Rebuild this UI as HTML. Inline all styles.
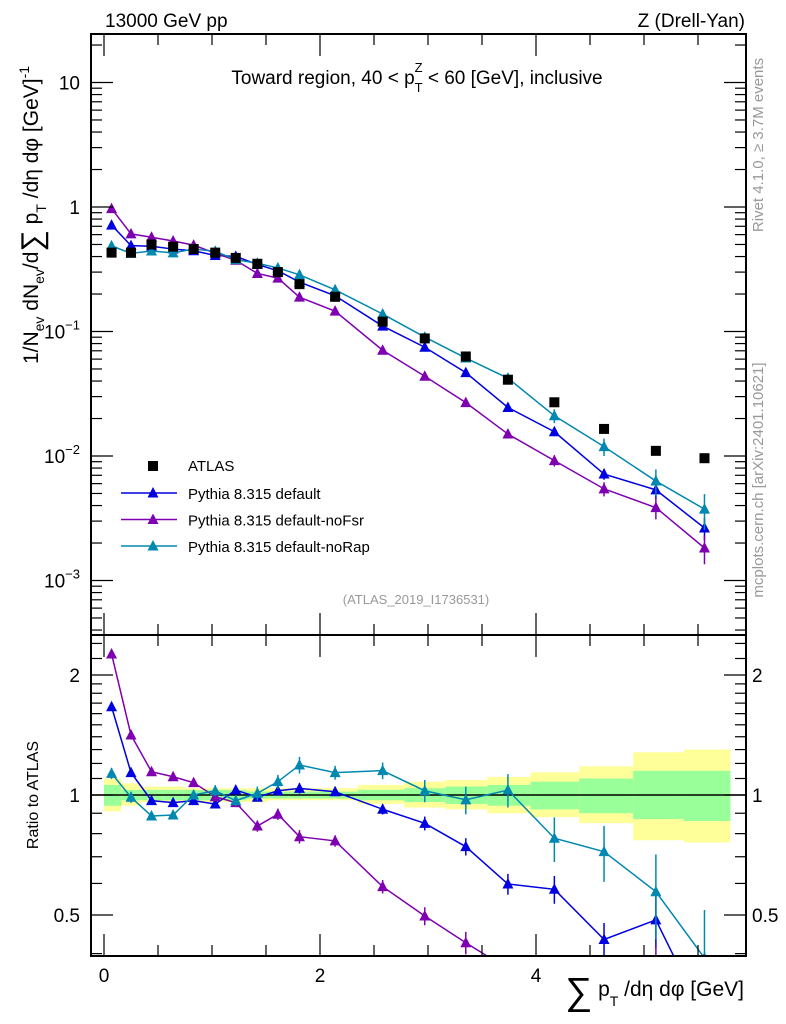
<!DOCTYPE html>
<html><head><meta charset="utf-8"><style>
html,body{margin:0;padding:0;background:#fff;overflow:hidden;width:786px;height:1024px}
svg{display:block;font-family:"Liberation Sans",sans-serif}
</style></head><body>
<svg id="c" width="786" height="1024" viewBox="0 0 786 1024">
<text x="105" y="27" font-size="19">13000 GeV pp</text>
<text x="745" y="27" font-size="19" text-anchor="end">Z (Drell-Yan)</text>
<text x="417" y="84" font-size="19" text-anchor="middle">Toward region, 40 &lt; p<tspan dy="8" font-size="13">T</tspan><tspan dx="-8" dy="-20" font-size="13">Z</tspan><tspan dy="12"> &lt; 60 [GeV], inclusive</tspan></text>
<text x="416" y="604" font-size="13" fill="#999" text-anchor="middle">(ATLAS_2019_I1736531)</text>
<text transform="translate(763,145) rotate(-90)" font-size="15" fill="#999" text-anchor="middle">Rivet 4.1.0, ≥ 3.7M events</text>
<text transform="translate(763,480) rotate(-90)" font-size="15" fill="#999" text-anchor="middle">mcplots.cern.ch [arXiv:2401.10621]</text>
<text transform="translate(38,215) rotate(-90)" font-size="21" text-anchor="middle">1/N<tspan font-size="14" dy="6">ev</tspan><tspan dy="-6"> dN</tspan><tspan font-size="14" dy="6">ev</tspan><tspan dy="-6">/d</tspan><tspan font-size="30" dy="4">∑</tspan><tspan dy="-4"> p</tspan><tspan font-size="14" dy="8">T</tspan><tspan dy="-8"> /dη dφ  [GeV]</tspan><tspan font-size="14" dy="-9">-1</tspan></text>
<text transform="translate(38,795) rotate(-90)" font-size="16" text-anchor="middle">Ratio to ATLAS</text>
<text x="744" y="996" font-size="21" text-anchor="end"><tspan font-size="38" dy="8">∑</tspan><tspan dy="-8"> p</tspan><tspan font-size="14" dy="10">T</tspan><tspan dy="-10"> /dη dφ [GeV]</tspan></text>
<g id="g"></g>
</svg>
<script>
const xs=[0.07,0.25,0.44,0.64,0.83,1.03,1.22,1.42,1.61,1.81,2.14,2.58,2.97,3.35,3.74,4.17,4.63,5.11,5.56];
const edges=[0,0.16,0.34,0.54,0.74,0.93,1.13,1.32,1.52,1.71,1.95,2.35,2.78,3.16,3.55,3.95,4.4,4.9,5.37,5.8];
const atlas=[0.43,0.43,0.50,0.48,0.46,0.43,0.39,0.35,0.30,0.24,0.19,0.12,0.088,0.063,0.041,0.027,0.0165,0.011,0.0096];
const rDefault=[1.665,1.138,0.968,0.957,0.968,0.949,1.029,0.987,1.025,1.039,1.019,0.921,0.849,0.742,0.598,0.58,0.434,0.486,0.275];
const rNoFsr=[2.258,1.414,1.144,1.111,1.074,0.99,0.957,0.836,0.895,0.786,0.767,0.589,0.497,0.426,0.366,0.34,0.33,0.35,0.19];
const rNoRap=[1.133,0.987,0.886,0.891,1.0,1.025,0.968,1.01,1.08,1.189,1.138,1.151,1.025,0.972,1.029,0.779,0.721,0.572,0.39];
const relErr=[0.02,0.02,0.015,0.015,0.015,0.02,0.02,0.025,0.025,0.03,0.025,0.03,0.04,0.05,0.06,0.08,0.1,0.15,0.2];
const greenUp=[1.06,1.03,1.03,1.03,1.03,1.03,1.03,1.02,1.02,1.02,1.02,1.03,1.04,1.05,1.06,1.08,1.10,1.15,1.15];
const greenLo=[0.94,0.97,0.97,0.97,0.97,0.97,0.97,0.98,0.98,0.98,0.98,0.97,0.96,0.95,0.94,0.92,0.90,0.87,0.86];
const yelUp=[1.10,1.07,1.05,1.05,1.04,1.04,1.04,1.04,1.04,1.04,1.04,1.06,1.08,1.09,1.11,1.14,1.18,1.28,1.30];
const yelLo=[0.91,0.94,0.96,0.96,0.96,0.96,0.96,0.96,0.97,0.97,0.97,0.95,0.93,0.92,0.90,0.88,0.85,0.77,0.76];
const mainTicks=["10^-3","10^-2","10^-1","1","10"];
const ratioTicks=["0.5","1","2"];
const xTicks=["0","2","4"];

const NS="http://www.w3.org/2000/svg",G=document.getElementById('g');
const L=91,R=746,T=34,MB=635,B=956;
const X=v=>104+v*108;
const YM=v=>207-Math.log10(v)*124.5;
const YR=v=>795-Math.log2(v)*120;
function mk(t,a,p){const e=document.createElementNS(NS,t);for(const k in a)e.setAttribute(k,a[k]);(p||G).appendChild(e);return e;}
function clip(id,y0,y1){const c=mk('clipPath',{id:id});mk('rect',{x:L,y:y0,width:R-L,height:y1-y0},c);}
clip('cm',T,MB);clip('cr',MB,B);
const bands=mk('g',{'clip-path':'url(#cr)'});


for(let i=0;i<xs.length;i++){
 const y=mk('rect',{x:X(edges[i]),y:YR(yelUp[i]),width:X(edges[i+1])-X(edges[i]),height:YR(yelLo[i])-YR(yelUp[i]),fill:'#ffff99'},bands);
 
 
 const g=mk('rect',{x:X(edges[i]),y:YR(greenUp[i]),width:X(edges[i+1])-X(edges[i]),height:YR(greenLo[i])-YR(greenUp[i]),fill:'#99ff99'},bands);
 
 
}
const one=mk('line',{x1:L,x2:R,y1:YR(1),y2:YR(1),stroke:'#000','stroke-width':1.5});


function tri(p,x,y,c){return mk('path',{d:`M${x-5.5},${y+4.5}L${x+5.5},${y+4.5}L${x},${y-6}Z`,fill:c},p);}
const series=[['default',rDefault,'#0000e0'],['noFsr',rNoFsr,'#7f00b0'],['noRap',rNoRap,'#0088b0']];
series.forEach(([nm,r,c],si)=>{
 [['cm',YM,1],['cr',YR,0]].forEach(([cl,Y,main])=>{
  const grp=mk('g',{'clip-path':`url(#${cl})`});
  
  
  const vals=r.map((v,i)=>main?v*atlas[i]:v);
  const e=relErr.map((v,i)=>v*(1+0.3*si));
  mk('polyline',{points:vals.map((v,i)=>X(xs[i])+','+Y(v)).join(' '),fill:'none',stroke:c,'stroke-width':1.5},grp);
  vals.forEach((v,i)=>{
   const x=X(xs[i]);
   mk('line',{x1:x,x2:x,y1:Y(v*(1+e[i])),y2:Y(v*(1-e[i])),stroke:c,'stroke-width':1.5},grp);
   const m=tri(grp,x,Y(v),c);
   
   
  });
 });
});
const ag=mk('g',{'clip-path':'url(#cm)'});


atlas.forEach((v,i)=>{const s=mk('rect',{x:X(xs[i])-5,y:YM(v)-5,width:10,height:10,fill:'#000'},ag);
 
 });
[[T,MB],[MB,B]].forEach(([a,b])=>{const f=mk('rect',{x:L,y:a,width:R-L,height:b-a,fill:'none',stroke:'#000','stroke-width':2});
 
 });
for(let d=-4;d<=1;d++)for(let m=1;m<10;m++){const v=m*Math.pow(10,d),y=YM(v);if(y<T||y>MB)continue;const len=m==1?22:11;
 mk('line',{x1:L,x2:L+len,y1:y,y2:y,stroke:'#000','stroke-width':1.2});mk('line',{x1:R,x2:R-len,y1:y,y2:y,stroke:'#000','stroke-width':1.2});}
mainTicks.forEach((t,i)=>{const d=i-3,y=YM(Math.pow(10,d));const tx=mk('text',{x:80,y:y+7,'font-size':19,'text-anchor':'end'});
 
 
 if(d===0||d===1)tx.textContent=t;else{tx.textContent='10';const s=mk('tspan',{dy:-9,'font-size':13},tx);s.textContent='−'+(-d);}});
[0.4,0.5,0.6,0.7,0.8,0.9,1,1.1,1.2,1.3,1.4,1.5,1.6,1.7,1.8,1.9,2,2.2,2.4].forEach(v=>{const y=YR(v);if(y<MB||y>B)return;const len=(v==0.5||v==1||v==2)?22:11;
 mk('line',{x1:L,x2:L+len,y1:y,y2:y,stroke:'#000','stroke-width':1.2});mk('line',{x1:R,x2:R-len,y1:y,y2:y,stroke:'#000','stroke-width':1.2});});
ratioTicks.forEach(t=>{const y=YR(parseFloat(t));
 const a=mk('text',{x:80,y:y+7,'font-size':19,'text-anchor':'end'});a.textContent=t;
 
 
 const b=mk('text',{x:752,y:y+7,'font-size':19});b.textContent=t;
 
 });
for(let v=0;v<=5.9;v+=0.5){const x=X(v),len=(v%2===0)?22:11;
 [[T,1],[MB,1],[MB,-1],[B,-1]].forEach(([y,s])=>mk('line',{x1:x,x2:x,y1:y,y2:y+s*len,stroke:'#000','stroke-width':1.2}));}
xTicks.forEach(t=>{const a=mk('text',{x:X(parseFloat(t)),y:982,'font-size':19,'text-anchor':'middle'});a.textContent=t;
 
 });
const leg=mk('g',{});


mk('rect',{x:148,y:461,width:10,height:10,fill:'#000'},leg);
const lt=mk('text',{x:188,y:471,'font-size':15},leg);lt.textContent='ATLAS';
series.forEach(([nm,r,c],i)=>{const y=493+i*26.5;
 mk('line',{x1:121,x2:177,y1:y,y2:y,stroke:c,'stroke-width':1.5},leg);tri(leg,153,y,c);
 const t=mk('text',{x:188,y:y+6,'font-size':15},leg);t.textContent='Pythia 8.315 default'+(nm==='default'?'':'-'+nm);
 
 });
</script>
</body></html>
